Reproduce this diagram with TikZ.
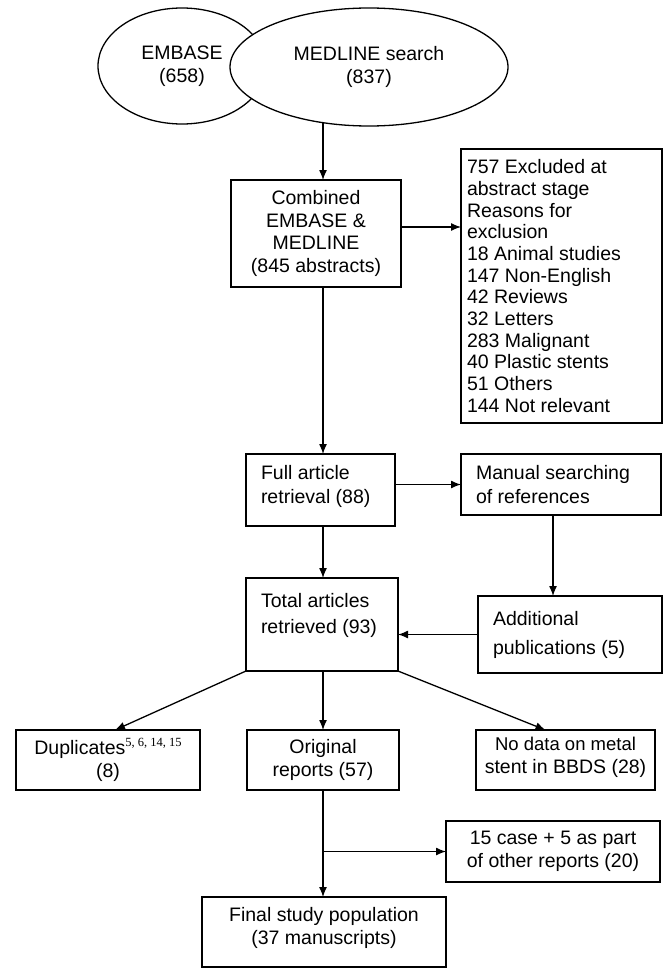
\documentclass[tikz,border=0pt]{standalone}
\usepackage{fontspec}
\setmainfont{Liberation Sans}
\newfontfamily\serifff{Liberation Serif}
\usetikzlibrary{shapes.geometric,arrows.meta,calc}
\begin{document}
\begin{tikzpicture}[x=1pt,y=-1pt,
  every node/.style={font=\fontsize{19.5}{22.7}\selectfont},
  box/.style={draw,line width=1.3pt,rectangle,inner sep=0pt,outer sep=0pt},
  ctext/.style={align=center},
  ltext/.style={align=left},
  ell/.style={draw,line width=1.3pt,ellipse,inner sep=0pt,outer sep=0pt,align=center},
  arr/.style={line width=1.3pt,-{Latex[length=10pt,width=8pt]}},
  ln/.style={line width=1.3pt}]
\useasboundingbox (0,0) rectangle (664,971);
\fill[white] (0,0) rectangle (664,971);
\coordinate (ax) at (323,0);

\node[ell,minimum width=168pt,minimum height=116pt] (emb) at (182,66) {EMBASE\\(658)};
\node[ell,fill=white,minimum width=278pt,minimum height=118pt] (med) at (369,67) {\raisebox{0pt}{MEDLINE search}\\(837)};

\node[box,minimum width=170pt,minimum height=107pt,ctext] (comb) at (316,233.5)
  {Combined\\EMBASE \&\\MEDLINE\\(845 abstracts)};

\node[box,minimum width=201pt,minimum height=274pt] (excl) at (561.5,286)
  {\begin{minipage}{189pt}\fontsize{19.5}{21.7}\selectfont
   757 Excluded at\\abstract stage\\Reasons for\\exclusion\\18 Animal studies\\147 Non-English\\42 Reviews\\32 Letters\\283 Malignant\\40 Plastic stents\\51 Others\\144 Not relevant\end{minipage}};

\node[box,minimum width=149pt,minimum height=72pt] (full) at (320.5,490)
  {\begin{minipage}{119pt}\fontsize{19.5}{24}\selectfont Full article\\retrieval (88)\vspace{8pt}\end{minipage}};

\node[box,minimum width=200pt,minimum height=61pt] (man) at (561,484.5)
  {\begin{minipage}{170pt}\fontsize{19.5}{24}\selectfont Manual searching\\of references\end{minipage}};

\node[box,minimum width=152pt,minimum height=93pt] (tot) at (322,624.5)
  {\begin{minipage}{122pt}\fontsize{19.5}{26}\selectfont Total articles\\retrieved (93)\vspace{18pt}\end{minipage}};

\node[box,minimum width=184pt,minimum height=77pt] (add) at (570,634.5)
  {\begin{minipage}{154pt}\fontsize{19.5}{29}\selectfont Additional\\publications (5)\end{minipage}};

\node[box,minimum width=184pt,minimum height=60pt,ctext] (dup) at (108,760)
  {Duplicates\raisebox{8pt}{\serifff\fontsize{12.5}{12.5}\selectfont 5, 6, 14, 15}\\(8)};

\node[box,minimum width=152pt,minimum height=60pt,ctext] (orig) at (323,760)
  {Original\\reports (57)};

\node[box,minimum width=179pt,minimum height=60pt,ctext] (nod) at (565.5,760)
  {\fontsize{18.5}{22.7}\selectfont No data on metal\\stent in BBDS (28)\vspace{6pt}};

\node[box,minimum width=214pt,minimum height=61pt,ctext] (case) at (553,851.5)
  {15 case + 5 as part\\of other reports (20)};

\node[box,minimum width=244pt,minimum height=70pt,ctext] (fin) at (324,932)
  {Final study population\\(37 manuscripts)\vspace{8pt}};

% connectors
\draw[arr] ($(med.south -| ax)+(0,-4)$) -- (comb.north -| ax);
\draw[arr] ([yshift=6.5pt]comb.east) -- ([yshift=6.5pt]comb.east -| excl.west);
\draw[arr] (comb.south -| ax) -- (full.north -| ax);
\draw[arr] (full.east |- man.west) -- (man.west);
\draw[arr] (full.south -| ax) -- (tot.north -| ax);
\draw[arr] ([xshift=-8pt]man.south) -- ([xshift=-8pt]man.south |- add.north);
\draw[arr] (add.west) -- (add.west -| tot.east);
\draw[arr] (tot.south west) -- ([xshift=7pt]dup.north);
\draw[arr] (tot.south -| ax) -- (orig.north -| ax);
\draw[arr] (tot.south east) -- ([xshift=-20pt]nod.north);
\draw[arr] (orig.south -| ax) -- (fin.north -| ax);
\draw[arr] (case.west -| ax) -- (case.west);
\end{tikzpicture}
\end{document}
